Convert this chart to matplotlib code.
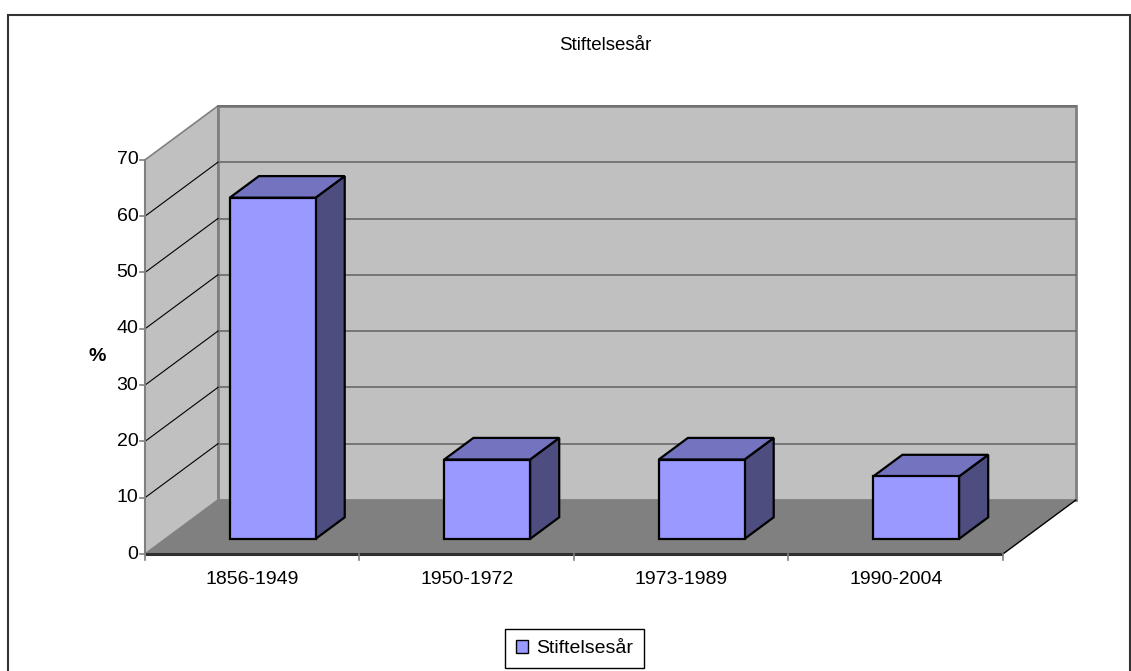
import matplotlib
matplotlib.use("Agg")
import matplotlib.pyplot as plt
from matplotlib.patches import Polygon, Rectangle, Patch

plt.rcParams['font.family'] = ['Liberation Sans', 'DejaVu Sans']

title = "Stiftelsesår"
categories = ["1856-1949", "1950-1972", "1973-1989", "1990-2004"]
values = [60.6, 14.1, 14.1, 11.1]
yticks = [0, 10, 20, 30, 40, 50, 60, 70]
ylabel = "%"
series_name = "Stiftelsesår"

# oblique projection parameters (depth offsets in data units)
DX, DY = 0.340, 9.59
YMAX = 70
N = len(categories)

def P(x, y, d):
    return (x + d * DX, y + d * DY)

fig = plt.figure(figsize=(11.31, 6.71), dpi=100)
ax = fig.add_axes([0, 0, 1, 1])
ax.set_xlim(-0.676, 4.597)
ax.set_ylim(-20.78, 98.4)
ax.axis('off')

wall = '#C0C0C0'
floor = '#808080'
FS = 14

# left wall
ax.add_patch(Polygon([P(0, 0, 0), P(0, YMAX, 0), P(0, YMAX, 1), P(0, 0, 1)],
                     closed=True, facecolor=wall, edgecolor='#808080', lw=1.2, zorder=1))
# back wall
ax.add_patch(Polygon([P(0, 0, 1), P(N, 0, 1), P(N, YMAX, 1), P(0, YMAX, 1)],
                     closed=True, facecolor=wall, edgecolor='#808080', lw=2, zorder=1))
# floor
ax.add_patch(Polygon([P(0, 0, 0), P(N, 0, 0), P(N, 0, 1), P(0, 0, 1)],
                     closed=True, facecolor=floor, edgecolor='none', zorder=2))
x0, y0 = P(N, 0, 0); x1, y1 = P(N, 0, 1)
ax.plot([x0, x1], [y0, y1], color='black', lw=1, zorder=3)

# gridlines
for v in yticks[1:]:
    a = P(0, v, 1); b = P(N, v, 1)
    ax.plot([a[0], b[0]], [a[1], b[1]], color='#707070', lw=1.3, zorder=2)
    if v < YMAX:
        c = P(0, v, 0)
        ax.plot([c[0], a[0]], [c[1], a[1]], color='black', lw=0.8, zorder=2)

# front floor edge
ax.plot([0, N], [0, 0], color='#303030', lw=2.2, zorder=3, solid_capstyle='butt')
# y axis
ax.plot([0, 0], [0, YMAX], color='#808080', lw=1.5, zorder=3)
for v in yticks:
    ax.plot([-0.025, 0], [v, v], color='#808080', lw=1.2, zorder=3)
    ax.text(-0.031, v, str(v), ha='right', va='center', fontsize=FS, color='black')
# x ticks
for i in range(N + 1):
    ax.plot([i, i], [0, -1.1], color='#808080', lw=1.2, zorder=3)
for i, c in enumerate(categories):
    ax.text(i + 0.5, -4.6, c, ha='center', va='center', fontsize=FS)

ax.text(-0.224, 35, ylabel, ha='center', va='center', fontsize=FS, fontweight='bold')
ax.text(2.145, 90.4, title, ha='center', va='center', fontsize=13.5)

# bars
front_c, top_c, side_c = '#9999FF', '#7373BF', '#4D4D80'
d0, d1 = 0.28, 0.68
for i, v in enumerate(values):
    xa, xb = i + 0.3, i + 0.7
    side = [P(xb, 0, d0), P(xb, v, d0), P(xb, v, d1), P(xb, 0, d1)]
    top = [P(xa, v, d0), P(xb, v, d0), P(xb, v, d1), P(xa, v, d1)]
    front = [P(xa, 0, d0), P(xb, 0, d0), P(xb, v, d0), P(xa, v, d0)]
    for pts, col in [(side, side_c), (top, top_c), (front, front_c)]:
        ax.add_patch(Polygon(pts, closed=True, facecolor=col, edgecolor='black',
                             lw=1.6, joinstyle='miter', zorder=5))

# legend
leg = ax.legend(handles=[Patch(facecolor=front_c, edgecolor='black', label=series_name)],
                loc='center', bbox_to_anchor=(0.508, 0.034), bbox_transform=fig.transFigure,
                fancybox=False, frameon=True, edgecolor='black', fontsize=FS,
                handlelength=0.65, handleheight=0.65, handletextpad=0.4,
                borderpad=0.55, borderaxespad=0, framealpha=1)
leg.get_frame().set_linewidth(1.0)

# outer border
fig.patches.append(Rectangle((8 / 1131, -0.01), (1130 - 8) / 1131, 1 - 15 / 671 + 0.01,
                             transform=fig.transFigure, fill=False,
                             edgecolor='#333333', lw=1.5))

fig.savefig('out.png', dpi=100)
